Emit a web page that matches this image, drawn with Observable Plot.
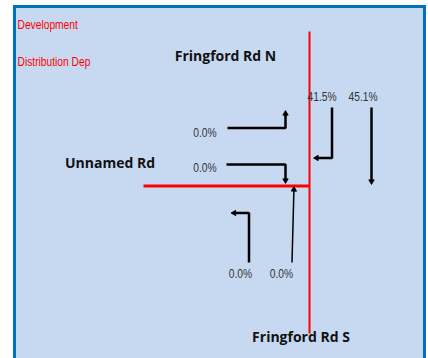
<!DOCTYPE html>
<html><head><meta charset="utf-8">
<script src="https://cdn.jsdelivr.net/npm/d3@7"></script>
<script src="https://cdn.jsdelivr.net/npm/@observablehq/plot@0.6"></script>
<style>html,body{margin:0;padding:0;background:#fff;overflow:hidden}</style>
</head><body><div id="chart"></div>
<script>
// ---- data ----
const roads = ["Fringford Rd N", "Unnamed Rd", "Fringford Rd S"];
const notes = ["Development", "Distribution Dep"];
const movements = ["SB right", "SB through", "EB left", "EB right", "NB left", "NB through"];
const shares = [41.5, 45.1, 0.0, 0.0, 0.0, 0.0];

// ---- layout (diagram positions, in pixel-like units) ----
const roadLabelPos = [[225, 60], [109.5, 167], [300.5, 341]];
const notePos = [[17, 28.5], [17, 65]];
const shareLabelPos = [[321.5, 100], [362.5, 100], [204.5, 136], [204.5, 171], [240, 277], [281, 277]];
const arrowPaths = [
  [[331.5, 107], [331.5, 157.5], [313, 157.5]],
  [[371, 107], [371, 184]],
  [[227, 127.5], [285, 127.5], [285, 110]],
  [[226, 164], [285, 164], [285, 183]],
  [[248.5, 262], [248.5, 212.5], [230.5, 212.5]],
  [[291.5, 262], [293.5, 186]]
];
const arrowWidths = [2.5, 2.5, 2.5, 2.5, 2.5, 1.5];
const roadLines = [
  [[309, 31], [309, 333]],
  [[143, 185.5], [309, 185.5]]
];
const roadWidths = [2, 3];

// ---- derived tables ----
const headR = 2;
const tipOff = 2 * Math.sqrt(Math.PI * headR * headR / (3 * Math.sqrt(3)));
const shafts = [], heads = [];
movements.forEach((m, i) => {
  const p = arrowPaths[i];
  const a = p[p.length - 2], b = p[p.length - 1];
  const dx = b[0] - a[0], dy = b[1] - a[1], len = Math.hypot(dx, dy);
  const ux = dx / len, uy = dy / len;
  const c = [b[0] - ux * tipOff, b[1] - uy * tipOff];
  p.slice(0, -1).forEach(q => shafts.push({m, x: q[0], y: q[1]}));
  shafts.push({m, x: c[0], y: c[1]});
  const ang = Math.atan2(uy, ux) * 180 / Math.PI + 90;
  heads.push({m, x: c[0], y: c[1], rot: ang});
});
const roadRows = roadLines.flatMap((l, i) => l.map(q => ({r: i, x: q[0], y: q[1]})));
const roadText = roads.map((t, i) => ({t, x: roadLabelPos[i][0], y: roadLabelPos[i][1]}));
const noteText = notes.map((t, i) => ({t, x: notePos[i][0], y: notePos[i][1]}));
const shareText = shares.map((v, i) => ({t: v.toFixed(1) + "%", x: shareLabelPos[i][0], y: shareLabelPos[i][1]}));

const narrow = "'Liberation Sans', Arial, sans-serif";
const bold = "'Open Sans', Lato, sans-serif";

const chart = Plot.plot({
  width: 428, height: 358, margin: 0,
  x: {domain: [0, 428], range: [0, 428], axis: null},
  y: {domain: [0, 358], range: [0, 358], axis: null},
  style: {overflow: "hidden", background: "white"},
  marks: [
    Plot.rect([{x1: 14.5, x2: 424.5, y1: 6.5, y2: 366}], {x1: "x1", x2: "x2", y1: "y1", y2: "y2", fill: "#c6d9f1", stroke: "#0070c0", strokeWidth: 3}),
    ...roadLines.map((_, i) => Plot.line(roadRows.filter(d => d.r === i), {x: "x", y: "y", stroke: "#ff0000", strokeWidth: roadWidths[i], strokeLinecap: "butt"})),
    ...movements.map((m, i) => Plot.line(shafts.filter(d => d.m === m), {x: "x", y: "y", stroke: "#000", strokeWidth: arrowWidths[i], strokeLinejoin: "miter", strokeLinecap: "butt"})),
    Plot.dot(heads, {x: "x", y: "y", symbol: "triangle", r: headR, fill: "#000", stroke: "#000", strokeWidth: 0.8, rotate: "rot"}),
    Plot.text(noteText, {x: "x", y: "y", text: "t", textAnchor: "start", lineAnchor: "bottom", fill: "#ff0000", fontSize: 12.5, fontFamily: narrow, className: "narrowtext"}),
    Plot.text(roadText, {x: "x", y: "y", text: "t", textAnchor: "middle", lineAnchor: "bottom", fill: "#111", fontSize: 14, fontWeight: "bold", fontFamily: bold}),
    Plot.text(shareText, {x: "x", y: "y", text: "t", textAnchor: "middle", lineAnchor: "bottom", fill: "#333", fontSize: 12.5, fontFamily: narrow, className: "narrowtext"})
  ]
});
// condense the narrow labels horizontally (Arial Narrow look)
chart.querySelectorAll(".narrowtext text").forEach(t => {
  const tr = t.getAttribute("transform") || "";
  t.setAttribute("transform", tr + " scale(0.82,1)");
});
document.getElementById("chart").appendChild(chart);
</script>
</body></html>
